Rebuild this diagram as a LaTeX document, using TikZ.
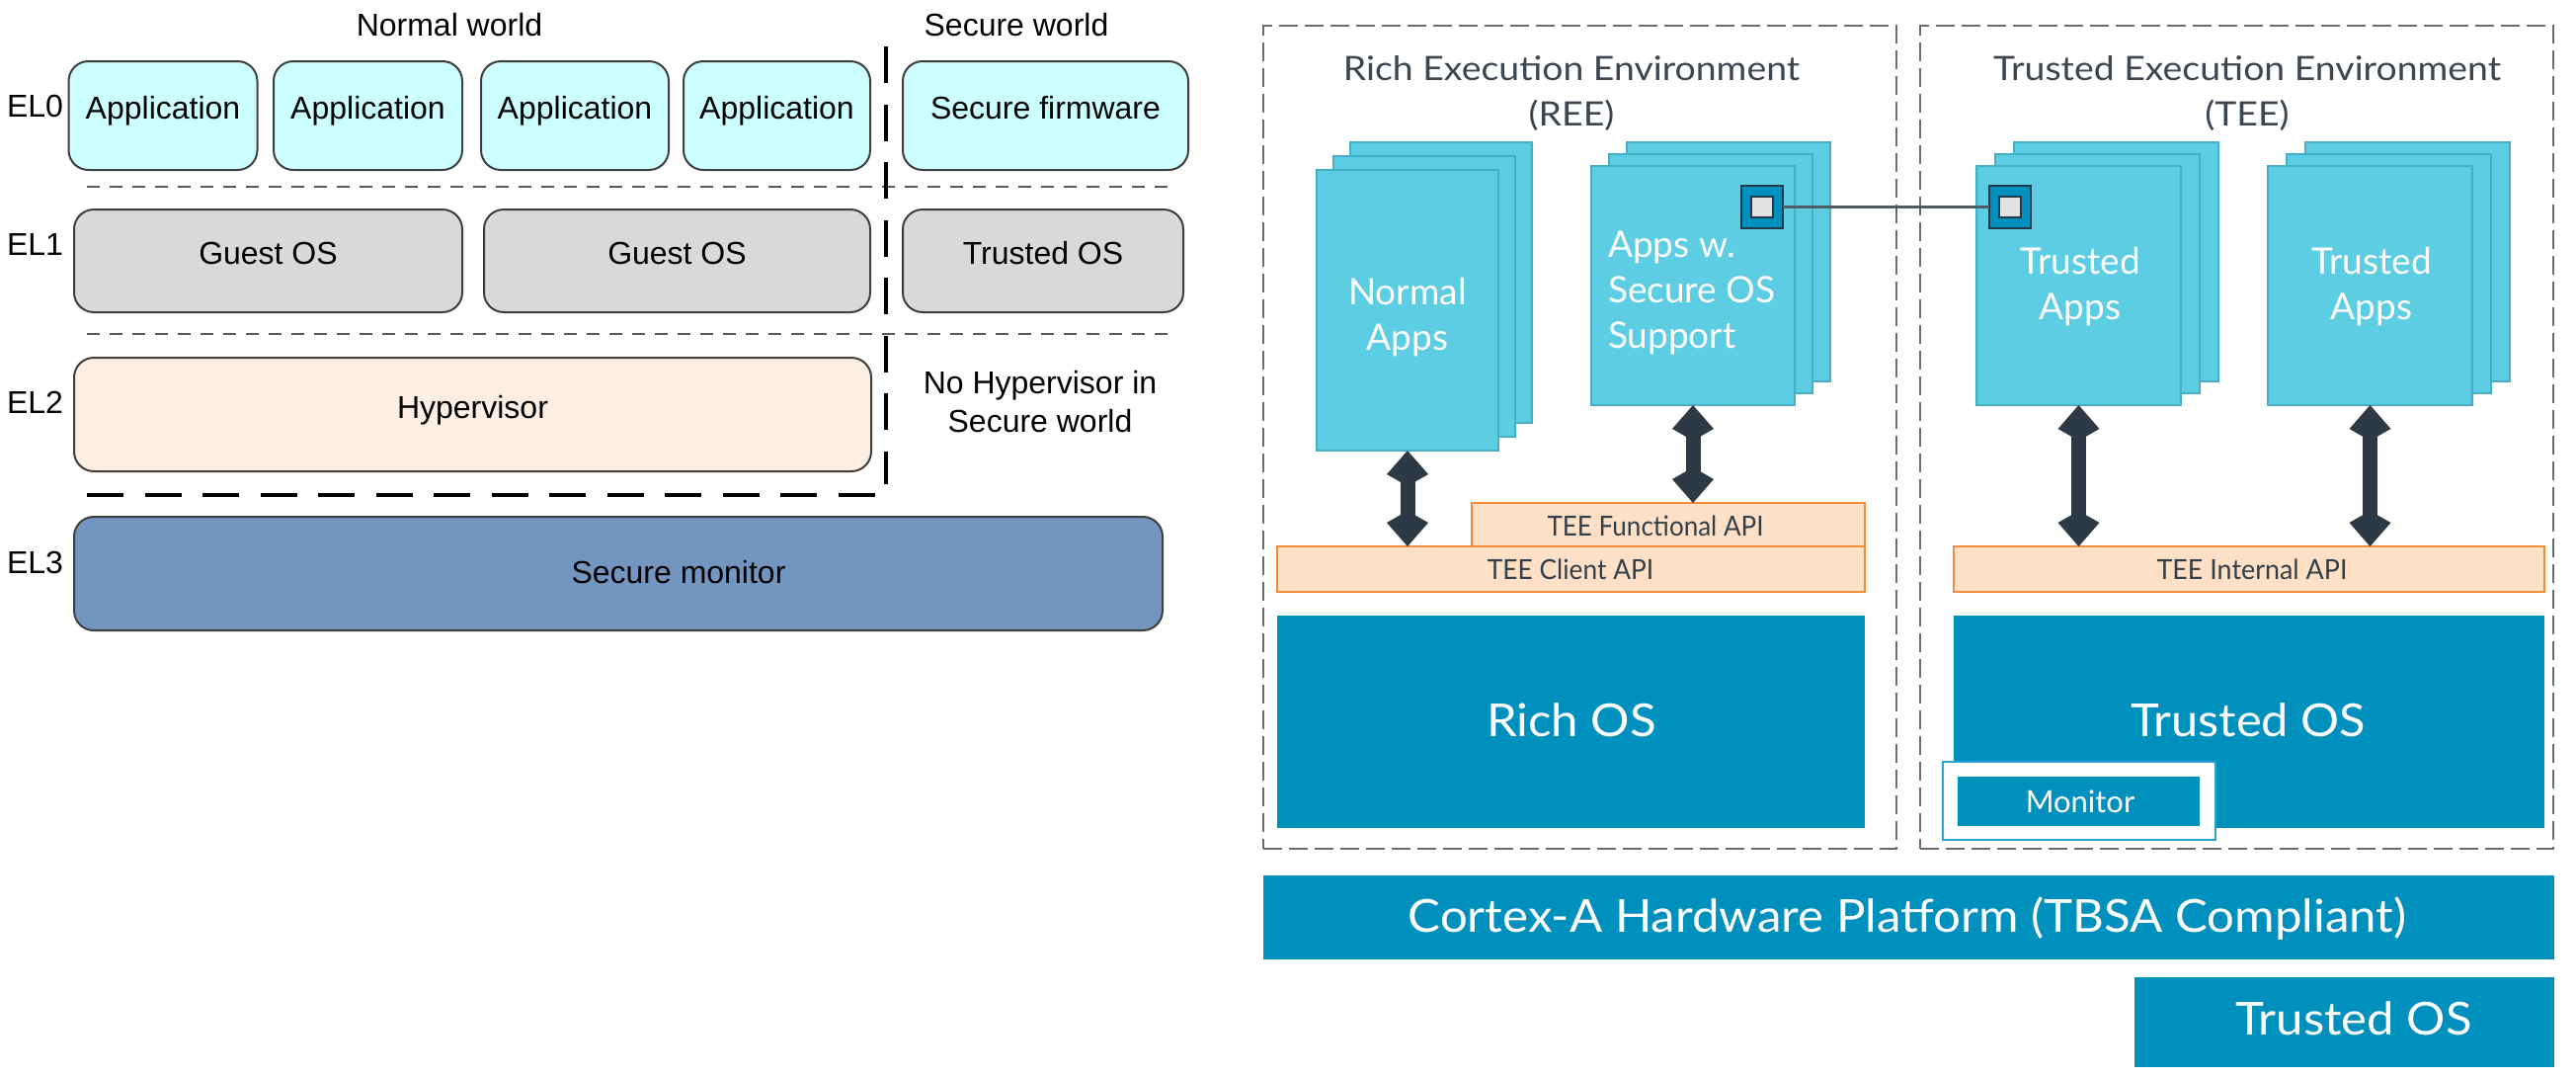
\documentclass[tikz,border=0pt]{standalone}
\usepackage{fontspec}
\setmainfont{Liberation Sans}
\newfontfamily\lato{Lato}
\usetikzlibrary{arrows.meta}
\definecolor{edgec}{HTML}{3F3F3F}
\definecolor{appfill}{HTML}{CCFFFF}
\definecolor{osfill}{HTML}{D9D9D9}
\definecolor{hypfill}{HTML}{FDEEE3}
\definecolor{monfill}{HTML}{7396C1}
\definecolor{framec}{HTML}{6B6B6B}
\definecolor{titlec}{HTML}{3B4650}
\definecolor{pagefill}{HTML}{5CCDE3}
\definecolor{pageedge}{HTML}{45AFC5}
\definecolor{apifill}{HTML}{FEE0C6}
\definecolor{apiedge}{HTML}{F48B3A}
\definecolor{apitext}{HTML}{333F48}
\definecolor{osblue}{HTML}{0090BE}
\definecolor{arrowc}{HTML}{2D3A45}
\definecolor{sqedge}{HTML}{22394A}
\definecolor{sqin}{HTML}{E2E2E2}
\definecolor{linkc}{HTML}{4E5C66}
\definecolor{monframe}{HTML}{2BA3D0}
\newcommand\boxat[7]{\node[#2, anchor=north west, minimum width={#5-#3}, minimum height={#6-#4}] (#1) at (#3,#4) {#7};}
\newcommand\hstretch[2]{\scalebox{#1}[1]{#2}}
\begin{document}
\begin{tikzpicture}[x=1pt,y=-1pt,
  every node/.style={inner sep=0pt, outer sep=0pt},
  lbox/.style={draw=edgec, line width=2pt, rounded corners=20pt, font=\fontsize{32}{38}\selectfont, text=black, text height=0.716em, text depth=0pt},
  ltext/.style={font=\fontsize{32}{38}\selectfont, text=black},
  thindash/.style={draw=black!65, line width=2pt, dash pattern=on 13pt off 10pt},
  thickdash/.style={draw=black, line width=4.5pt, dash pattern=on 37pt off 21.5pt},
  framebox/.style={draw=framec, line width=2.5pt, dash pattern=on 19pt off 7pt},
  titletext/.style={font=\lato\fontsize{34}{40}\selectfont, text=titlec},
  page/.style={fill=pagefill, draw=pageedge, line width=1.5pt},
  pagetext/.style={font=\lato\fontsize{37}{44}\selectfont, text=white},
  sqout/.style={fill=osblue, draw=sqedge, line width=2pt},
  sqinner/.style={fill=sqin, draw=sqedge, line width=1.5pt},
  link/.style={draw=linkc, line width=3pt},
  api/.style={fill=apifill, draw=apiedge, line width=2.5pt},
  apitxt/.style={font=\lato\fontsize{28}{34}\selectfont, text=apitext},
  osbox/.style={fill=osblue},
  bigtext/.style={font=\lato\fontsize{46}{54}\selectfont, text=white},
  montext/.style={font=\lato\fontsize{31}{36}\selectfont, text=white},
  dblarrow/.style={draw=arrowc, line width=15pt, {Kite[length=36pt,width=42pt,inset=12pt]}-{Kite[length=36pt,width=42pt,inset=12pt]}}
]
\useasboundingbox (0,0) rectangle (2608,1090);

% ---------------- left: exception levels ----------------
\node[ltext, anchor=base] (nw) at (455,36) {Normal world};
\node[ltext, anchor=base] (sw) at (1029,36) {Secure world};

\node[ltext, anchor=base west] (el0) at (7,118) {EL0};
\node[ltext, anchor=base west] (el1) at (7,258) {EL1};
\node[ltext, anchor=base west] (el2) at (7,418) {EL2};
\node[ltext, anchor=base west] (el3) at (7,580) {EL3};

\node[lbox, fill=appfill, minimum width=191, minimum height=110] (app1) at (165,117) {Application};
\node[lbox, fill=appfill, minimum width=191, minimum height=110] (app2) at (372.5,117) {Application};
\node[lbox, fill=appfill, minimum width=190, minimum height=110] (app3) at (582,117) {Application};
\node[lbox, fill=appfill, minimum width=189, minimum height=110] (app4) at (786.5,117) {Application};
\node[lbox, fill=appfill, minimum width=289, minimum height=110] (sfw) at (1058.5,117) {Secure firmware};

\node[lbox, fill=osfill, minimum width=393, minimum height=104] (gos1) at (271.5,264) {Guest OS};
\node[lbox, fill=osfill, minimum width=391, minimum height=104] (gos2) at (685.5,264) {Guest OS};
\node[lbox, fill=osfill, minimum width=284, minimum height=104] (tos) at (1056,264) {Trusted OS};

\node[lbox, fill=hypfill, minimum width=807, minimum height=115] (hyp) at (478.5,419.5) {Hypervisor};
\node[ltext, anchor=base] (nohyp1) at (1053,398) {No Hypervisor in};
\node[ltext, anchor=base] (nohyp2) at (1053,437) {Secure world};

\node[lbox, fill=monfill, minimum width=1102, minimum height=115] (smon) at (626,580.5) {};
\node[ltext, anchor=base] (smontext) at (687,590) {Secure monitor};

\coordinate (d1a) at (88,189);  \coordinate (d1b) at (1185,189);
\coordinate (d2a) at (88,338);  \coordinate (d2b) at (1185,338);
\draw[thindash] (d1a) -- (d1b);
\draw[thindash] (d2a) -- (d2b);
\coordinate (vt) at (897,47); \coordinate (vb) at (897,490);
\draw[thickdash] (vt) -- (vb);
\coordinate (ha) at (88,501); \coordinate (hb) at (890,501);
\draw[thickdash] (ha) -- (hb);

% ---------------- right: REE / TEE ----------------
\boxat{ree}{framebox}{1279}{26}{1920}{859}{}
\boxat{tee}{framebox}{1944}{26}{2585}{859}{}

\node[titletext, anchor=base] (reet1) at (1591,81) {\hstretch{1.1}{Rich Execution Environment}};
\node[titletext, anchor=base] (reet2) at (1591,127) {\hstretch{1.1}{(REE)}};
\node[titletext, anchor=base] (teet1) at (2275,81) {\hstretch{1.1}{Trusted Execution Environment}};
\node[titletext, anchor=base] (teet2) at (2275,127) {\hstretch{1.1}{(TEE)}};

% Normal apps stack
\path[page] (1367,144) rectangle (1551,428);
\path[page] (1350,158) rectangle (1534,442);
\boxat{na}{page}{1333}{172}{1517}{456}{}
\node[pagetext, anchor=base] (na1) at (1425,308) {Normal};
\node[pagetext, anchor=base] (na2) at (1425,354) {Apps};

% Apps with secure OS support stack
\path[page] (1647,144) rectangle (1853,386);
\path[page] (1629,156) rectangle (1835,398);
\boxat{aw}{page}{1611}{168}{1817}{410}{}
\node[pagetext, anchor=base west] (aw1) at (1628,260) {Apps w.};
\node[pagetext, anchor=base west] (aw2) at (1628,306) {Secure OS};
\node[pagetext, anchor=base west] (aw3) at (1628,352) {Support};

% Trusted apps stacks
\path[page] (2039,144) rectangle (2246,386);
\path[page] (2020,156) rectangle (2227,398);
\boxat{ta1}{page}{2001}{168}{2208}{410}{}
\node[pagetext, anchor=base] (ta1a) at (2106,277) {Trusted};
\node[pagetext, anchor=base] (ta1b) at (2106,323) {Apps};

\path[page] (2334,144) rectangle (2541,386);
\path[page] (2315,156) rectangle (2522,398);
\boxat{ta2}{page}{2296}{168}{2503}{410}{}
\node[pagetext, anchor=base] (ta2a) at (2401,277) {Trusted};
\node[pagetext, anchor=base] (ta2b) at (2401,323) {Apps};

% connector squares
\boxat{sq1}{sqout}{1763}{188}{1805}{231}{}
\boxat{sq2}{sqout}{2014}{188}{2056}{231}{}
\draw[link] (sq1.east) -- (sq2.west);
\boxat{sq1i}{sqinner}{1773}{199}{1795}{220}{}
\boxat{sq2i}{sqinner}{2024}{199}{2046}{220}{}

% APIs
\boxat{client}{api}{1293}{553}{1888}{599}{}
\boxat{func}{api}{1490}{509}{1888}{553}{}
\boxat{internal}{api}{1978}{553}{2576}{599}{}
\node[apitxt, anchor=base] (functext) at (1676,542) {\hstretch{0.93}{TEE Functional API}};
\node[apitxt, anchor=base] (clienttext) at (1590,586) {\hstretch{0.94}{TEE Client API}};
\node[apitxt, anchor=base] (internaltext) at (2280,586) {\hstretch{0.96}{TEE Internal API}};

% arrows
\draw[dblarrow] (na.south) -- (na.south |- client.north);
\draw[dblarrow] (aw.south) -- (aw.south |- func.north);
\draw[dblarrow] (ta1.south) -- (ta1.south |- internal.north);
\draw[dblarrow] (ta2.south) -- (ta2.south |- internal.north);

% OS boxes
\boxat{richos}{osbox}{1293}{623}{1888}{838}{}
\node[bigtext, anchor=base] (richostext) at (1591,745) {\hstretch{1.07}{Rich OS}};
\boxat{trustos}{osbox}{1978}{623}{2576}{838}{}
\node[bigtext, anchor=base] (trustostext) at (2276,745) {\hstretch{1.06}{Trusted OS}};
\boxat{monout}{fill=white, draw=monframe, line width=2pt}{1967}{771}{2243}{850}{}
\boxat{monin}{osbox}{1982}{786}{2227}{836}{}
\node[montext, anchor=base] (montxt) at (2106,822) {Monitor};

% hardware
\boxat{cortex}{osbox}{1279}{886}{2586}{971}{}
\node[bigtext, anchor=base] (cortextext) at (1931,943) {\hstretch{1.07}{Cortex-A Hardware Platform (TBSA Compliant)}};
\boxat{tos2}{osbox}{2161}{989}{2586}{1080}{}
\node[bigtext, anchor=base] (tos2text) at (2383,1047) {\hstretch{1.067}{Trusted OS}};
\end{tikzpicture}
\end{document}
